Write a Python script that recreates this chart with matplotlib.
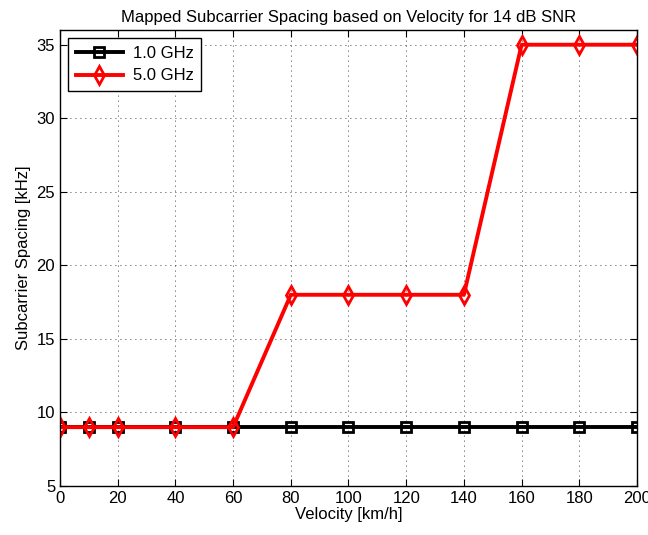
import matplotlib
matplotlib.use("Agg")
import matplotlib.pyplot as plt

velocity = [0, 10, 20, 40, 60, 80, 100, 120, 140, 160, 180, 200]
spacing_1ghz = [9, 9, 9, 9, 9, 9, 9, 9, 9, 9, 9, 9]
spacing_5ghz = [9, 9, 9, 9, 9, 18, 18, 18, 18, 35, 35, 35]

plt.rcParams['font.family'] = ['Liberation Sans', 'DejaVu Sans']
plt.rcParams['font.size'] = 12

fig = plt.figure(figsize=(6.48, 5.35), dpi=100)
ax = fig.add_axes([0.0926, 0.0916, 0.8904, 0.8523])

ax.plot(velocity, spacing_1ghz, color='black', lw=2.8, marker='s', ms=7,
        mfc='none', mew=2, label='1.0 GHz')
ax.plot(velocity, spacing_5ghz, color='red', lw=2.8, marker='d', ms=9,
        mfc='none', mew=2, label='5.0 GHz')

ax.set_xlim(0, 200)
ax.set_ylim(5, 36)
ax.set_xticks(range(0, 201, 20))
ax.set_yticks(range(5, 36, 5))
ax.tick_params(direction='in', top=True, right=True, length=5, labelsize=12)
ax.grid(True, color='black', linestyle=(0, (1, 5)), linewidth=0.6)
for s in ax.spines.values():
    s.set_linewidth(1)

ax.set_xlabel('Velocity [km/h]', labelpad=1)
ax.set_ylabel('Subcarrier Spacing [kHz]', labelpad=4)
ax.set_title('Mapped Subcarrier Spacing based on Velocity for 14 dB SNR', fontsize=12, pad=6)

leg = ax.legend(loc='upper left', fancybox=False, edgecolor='black',
                framealpha=1, handlelength=2.8, borderaxespad=0.5,
                borderpad=0.45, labelspacing=0.45, handletextpad=0.6)
leg.get_frame().set_linewidth(1)

fig.savefig('out.png', dpi=100)
